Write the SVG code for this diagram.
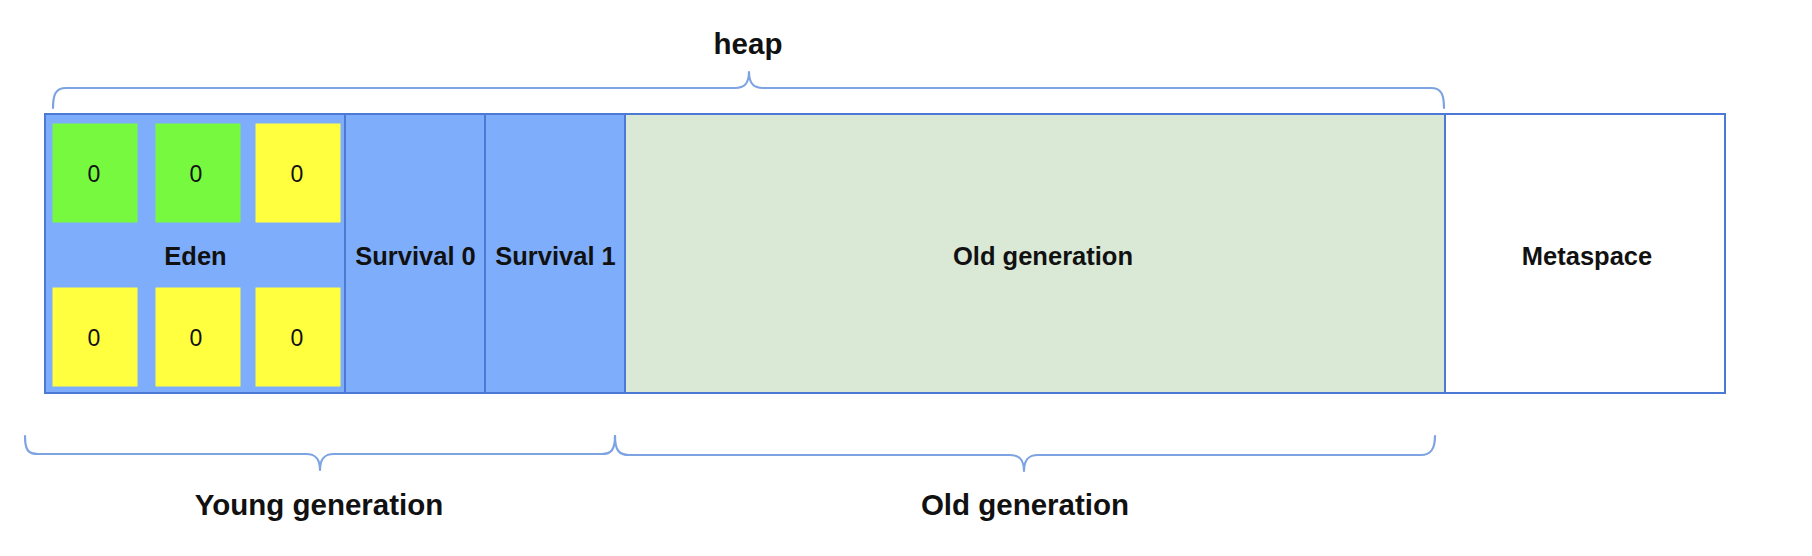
<svg xmlns="http://www.w3.org/2000/svg" width="1812" height="556" viewBox="0 0 1812 556">
  <style>
    .region { stroke: #4c78d6; stroke-width: 2; }
    .blue { fill: #7eaefb; }
    .old { fill: #dae8d6; }
    .meta { fill: #ffffff; }
    .green { fill: #77f940; stroke: none; }
    .yellow { fill: #ffff40; stroke: none; }
    .brace { fill: none; stroke: #7ea3e2; stroke-width: 2.2; stroke-linecap: round; stroke-linejoin: round; }
    .lbl { font-family: "Liberation Sans", Arial, sans-serif; font-weight: bold; font-size: 25.5px; fill: #111111; text-anchor: middle; }
    .head { font-family: "Liberation Sans", Arial, sans-serif; font-weight: bold; font-size: 29.5px; fill: #111111; text-anchor: middle; }
    .num { font-family: "Liberation Sans", Arial, sans-serif; font-size: 23px; fill: #111111; text-anchor: middle; }
  </style>
  <rect width="1812" height="556" fill="#ffffff"/>

  <g id="heap-label">
    <text class="head" x="748" y="54">heap</text>
  </g>

  <g id="eden">
    <rect class="region blue" x="45" y="114" width="300" height="279"/>
    <text class="lbl" x="195.5" y="264.5">Eden</text>
  </g>
  <g id="eden-cells">
    <g id="cell-1"><rect class="green" x="52.5" y="123.5" width="85" height="99"/><text class="num" x="94" y="181.5">0</text></g>
    <g id="cell-2"><rect class="green" x="155.5" y="123.5" width="85" height="99"/><text class="num" x="196" y="181.5">0</text></g>
    <g id="cell-3"><rect class="yellow" x="255.5" y="123.5" width="85" height="99"/><text class="num" x="297" y="181.5">0</text></g>
    <g id="cell-4"><rect class="yellow" x="52.5" y="287.5" width="85" height="99"/><text class="num" x="94" y="345.5">0</text></g>
    <g id="cell-5"><rect class="yellow" x="155.5" y="287.5" width="85" height="99"/><text class="num" x="196" y="345.5">0</text></g>
    <g id="cell-6"><rect class="yellow" x="255.5" y="287.5" width="85" height="99"/><text class="num" x="297" y="345.5">0</text></g>
  </g>

  <g id="survival-0">
    <rect class="region blue" x="345" y="114" width="140" height="279"/>
    <text class="lbl" x="415.5" y="264.5">Survival 0</text>
  </g>
  <g id="survival-1">
    <rect class="region blue" x="485" y="114" width="140" height="279"/>
    <text class="lbl" x="555.5" y="264.5">Survival 1</text>
  </g>
  <g id="old-generation">
    <rect class="region old" x="625" y="114" width="820" height="279"/>
    <text class="lbl" x="1043" y="264.5">Old generation</text>
  </g>
  <g id="metaspace">
    <rect class="region meta" x="1445" y="114" width="280" height="279"/>
    <text class="lbl" x="1587" y="264.5">Metaspace</text>
  </g>

  <g id="braces">
    <path class="brace" d="M53,108 C53,94 56,88 66,88 L735,88 C744,88 749,84 749,72 C749,84 754,88 763,88 L1431,88 C1441,88 1444,94 1444,108"/>
    <path class="brace" d="M25,436 C25,450 28,454 38,454 L306,454 C315,454 320,458 320,470 C320,458 325,454 334,454 L602,454 C611,454 615,450 615,436"/>
    <path class="brace" d="M615,436 C615,450 619,455 629,455 L1010,455 C1019,455 1024,459 1024,471 C1024,459 1029,455 1038,455 L1421,455 C1431,455 1435,449 1435,436"/>
  </g>

  <g id="labels">
    <text class="head" x="319" y="515">Young generation</text>
    <text class="head" x="1025" y="515">Old generation</text>
  </g>
</svg>
